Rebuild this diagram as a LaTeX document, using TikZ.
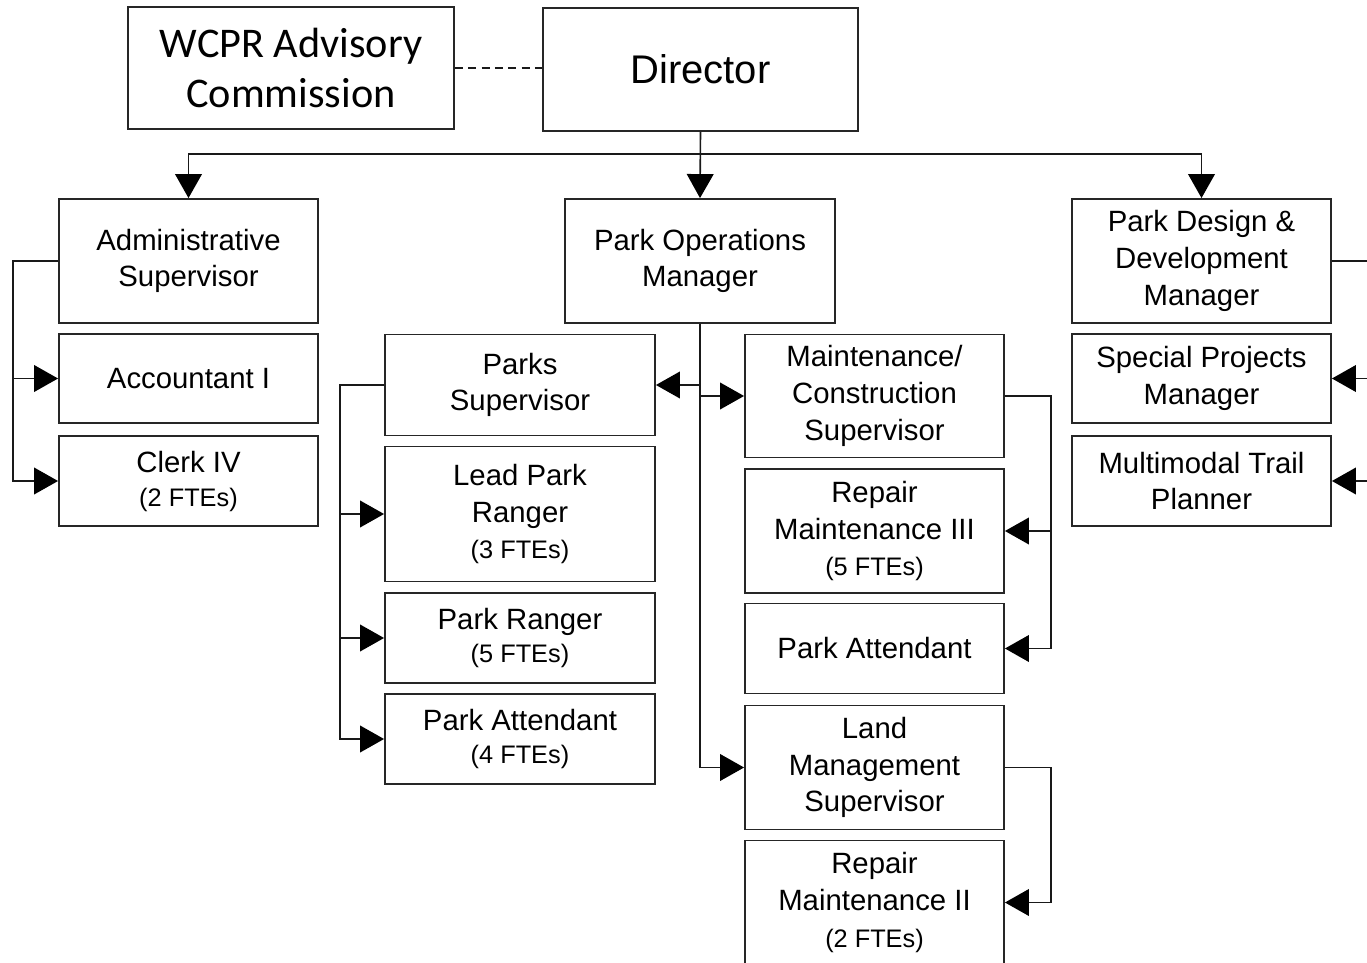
\documentclass[tikz,border=0pt]{standalone}
\usepackage{fontspec}
\setmainfont{Liberation Sans}
\newfontfamily\calfont{Carlito}
\usetikzlibrary{arrows.meta}
\newcommand{\fte}{\fontsize{19}{23}\selectfont}
\tikzset{
  box/.style={draw=black!85, line width=1.4pt, rectangle, inner sep=0pt, align=center,
    font=\fontsize{22}{27.5}\selectfont, text=black, minimum width=194.25pt},
  wide/.style={minimum width=202.5pt},
  hA/.style={minimum height=93pt},
  conn/.style={draw=black!90, line width=1.2pt},
  arr/.style={conn, -{Triangle[length=18pt,width=20pt,fill=black,color=black]}}
}
\begin{document}
\begin{tikzpicture}[x=0.75pt,y=-0.75pt]
\useasboundingbox (0,0) rectangle (1367,963);
\fill[white] (0,0) rectangle (1367,963);
% top level
\node[box, minimum width=244.5pt, minimum height=91.5pt, font=\calfont\fontsize{31.7}{37.5}\selectfont] (wcpr) at (291,68) {WCPR Advisory\\Commission};
\node[box, minimum width=236.25pt, minimum height=92.25pt, font=\fontsize{30}{36}\selectfont] (dir) at (700.5,69.5) {Director};
% second level
\node[box, hA] (adm) at (188.5,261) {Administrative\\Supervisor};
\node[box, wide, hA] (pom) at (700,261) {Park Operations\\Manager};
\node[box, hA] (pdd) at (1201.5,261) {Park Design \&\\Development\\Manager};
% admin branch
\node[box, minimum height=66.75pt] (acc) at (188.5,378.5) {Accountant I};
\node[box, minimum height=67.5pt] (clk) at (188.5,481) {Clerk IV\\[-2pt]{\fte (2 FTEs)}};
% parks supervisor branch
\node[box, wide, minimum height=75.75pt] (psv) at (520,385) {Parks\\Supervisor};
\node[box, wide, minimum height=101.25pt] (lpr) at (520,514) {Lead Park\\Ranger\\{\fte (3 FTEs)}};
\node[box, wide, minimum height=67.5pt] (prg) at (520,638) {Park Ranger\\[-3pt]{\fte (5 FTEs)}};
\node[box, wide, minimum height=67.5pt] (pat1) at (520,739) {Park Attendant\\[-3pt]{\fte (4 FTEs)}};
% maintenance branch
\node[box, minimum height=92.25pt] (mcs) at (874.5,396) {Maintenance/\\Construction\\Supervisor};
\node[box, hA] (rm3) at (874.5,531) {Repair\\Maintenance III\\{\fte (5 FTEs)}};
\node[box, minimum height=67.5pt] (pat2) at (874.5,648.5) {Park Attendant};
\node[box, hA] (lms) at (874.5,767.5) {Land\\Management\\Supervisor};
\node[box, hA] (rm2) at (874.5,902.5) {Repair\\Maintenance II\\{\fte (2 FTEs)}};
% design branch
\node[box, minimum height=66.75pt] (spm) at (1201.5,378.5) {Special Projects\\Manager};
\node[box, minimum height=67.5pt] (mtp) at (1201.5,481) {Multimodal Trail\\Planner};
% connectors
\draw[conn, dashed, dash pattern=on 6pt off 4pt] (wcpr.east) -- (wcpr.east -| dir.west);
\draw[arr] (dir.south) -- (pom.north);
\draw[arr] (dir.south) -- ++(0,22) -| (adm.north);
\draw[arr] (dir.south) -- ++(0,22) -| (pdd.north);
\draw[arr] (adm.west) -- ++(-45,0) |- (acc.west);
\draw[arr] (adm.west) -- ++(-45,0) |- (clk.west);
\draw[arr] (pom.south) |- (psv.east);
\draw[arr] (pom.south) |- (mcs.west);
\draw[arr] (pom.south) |- (lms.west);
\draw[arr] (psv.west) -- ++(-44,0) |- (lpr.west);
\draw[arr] (psv.west) -- ++(-44,0) |- (prg.west);
\draw[arr] (psv.west) -- ++(-44,0) |- (pat1.west);
\draw[arr] (mcs.east) -- ++(46,0) |- (rm3.east);
\draw[arr] (mcs.east) -- ++(46,0) |- (pat2.east);
\draw[arr] (lms.east) -- ++(46,0) |- (rm2.east);
\draw[arr] (pdd.east) -- ++(50,0) |- (spm.east);
\draw[arr] (pdd.east) -- ++(50,0) |- (mtp.east);
\end{tikzpicture}
\end{document}
